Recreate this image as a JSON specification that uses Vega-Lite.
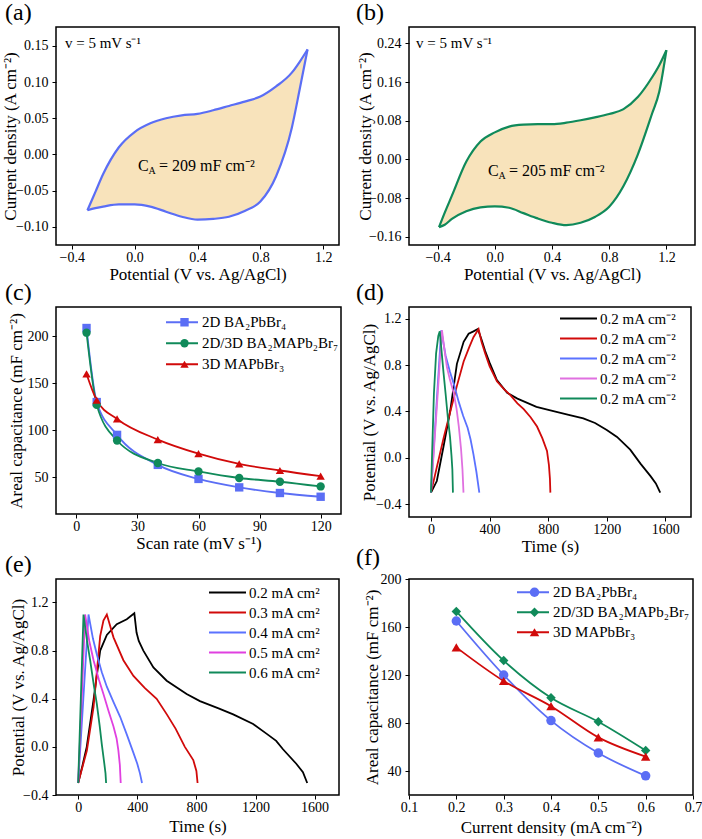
{
  "$schema": "https://vega.github.io/schema/vega-lite/v6.json",
  "padding": {"left": 0, "top": 0, "right": 0, "bottom": 0},
  "background": "white",
  "config": {
    "font": "Liberation Serif, Times New Roman, serif",
    "view": {"stroke": "#000", "strokeWidth": 1.5},
    "axis": {"labelFont": "Liberation Serif, Times New Roman, serif", "titleFont": "Liberation Serif, Times New Roman, serif", "labelFontSize": 14, "titleFontSize": 17, "titleFontWeight": "normal", "labelColor": "#000", "titleColor": "#000", "tickColor": "#000", "domain": false, "grid": false, "tickSize": 4, "labelFlush": false, "labelOverlap": false},
    "axisX": {"labelPadding": 1},
    "axisY": {"labelPadding": 4},
    "legend": {"labelFont": "Liberation Serif, Times New Roman, serif", "labelFontSize": 15, "labelColor": "#000", "padding": 0},
    "title": {"font": "Liberation Serif, Times New Roman, serif", "fontSize": 24, "fontWeight": "normal", "anchor": "start", "frame": "group", "color": "#000", "offset": 2}
  },
  "datasets": {
    "one": [{"k": 1}],
    "cvA": [
      {"x": -0.3, "up": -0.077, "lo": -0.077},
      {"x": -0.25, "up": -0.052, "lo": -0.074},
      {"x": -0.2, "up": -0.027, "lo": -0.072},
      {"x": -0.1, "up": 0.010, "lo": -0.069},
      {"x": 0.0, "up": 0.031, "lo": -0.069},
      {"x": 0.1, "up": 0.043, "lo": -0.072},
      {"x": 0.2, "up": 0.050, "lo": -0.079},
      {"x": 0.3, "up": 0.054, "lo": -0.086},
      {"x": 0.4, "up": 0.056, "lo": -0.090},
      {"x": 0.5, "up": 0.061, "lo": -0.089},
      {"x": 0.6, "up": 0.067, "lo": -0.086},
      {"x": 0.7, "up": 0.073, "lo": -0.078},
      {"x": 0.8, "up": 0.080, "lo": -0.065},
      {"x": 0.9, "up": 0.094, "lo": -0.030},
      {"x": 1.0, "up": 0.113, "lo": 0.037},
      {"x": 1.05, "up": 0.128, "lo": 0.090},
      {"x": 1.1, "up": 0.145, "lo": 0.145}
    ],
    "cvB": [
      {"x": -0.39, "up": -0.140, "lo": -0.140},
      {"x": -0.35, "up": -0.110, "lo": -0.135},
      {"x": -0.3, "up": -0.075, "lo": -0.123},
      {"x": -0.2, "up": -0.005, "lo": -0.107},
      {"x": -0.1, "up": 0.037, "lo": -0.099},
      {"x": 0.0, "up": 0.056, "lo": -0.097},
      {"x": 0.1, "up": 0.068, "lo": -0.100},
      {"x": 0.2, "up": 0.072, "lo": -0.111},
      {"x": 0.3, "up": 0.073, "lo": -0.122},
      {"x": 0.4, "up": 0.073, "lo": -0.131},
      {"x": 0.5, "up": 0.076, "lo": -0.136},
      {"x": 0.6, "up": 0.081, "lo": -0.131},
      {"x": 0.7, "up": 0.087, "lo": -0.119},
      {"x": 0.8, "up": 0.094, "lo": -0.098},
      {"x": 0.9, "up": 0.104, "lo": -0.055},
      {"x": 1.0, "up": 0.129, "lo": 0.010},
      {"x": 1.1, "up": 0.170, "lo": 0.095},
      {"x": 1.15, "up": 0.195, "lo": 0.140},
      {"x": 1.2, "up": 0.226, "lo": 0.226}
    ],
    "capC": [
      {"s": "2D BA₂PbBr₄", "r": 5, "c": 209}, {"s": "2D BA₂PbBr₄", "r": 10, "c": 130}, {"s": "2D BA₂PbBr₄", "r": 20, "c": 95}, {"s": "2D BA₂PbBr₄", "r": 40, "c": 63}, {"s": "2D BA₂PbBr₄", "r": 60, "c": 48}, {"s": "2D BA₂PbBr₄", "r": 80, "c": 39}, {"s": "2D BA₂PbBr₄", "r": 100, "c": 33}, {"s": "2D BA₂PbBr₄", "r": 120, "c": 29},
      {"s": "2D/3D BA₂MAPb₂Br₇", "r": 5, "c": 204}, {"s": "2D/3D BA₂MAPb₂Br₇", "r": 10, "c": 127}, {"s": "2D/3D BA₂MAPb₂Br₇", "r": 20, "c": 89}, {"s": "2D/3D BA₂MAPb₂Br₇", "r": 40, "c": 65}, {"s": "2D/3D BA₂MAPb₂Br₇", "r": 60, "c": 56}, {"s": "2D/3D BA₂MAPb₂Br₇", "r": 80, "c": 49}, {"s": "2D/3D BA₂MAPb₂Br₇", "r": 100, "c": 45}, {"s": "2D/3D BA₂MAPb₂Br₇", "r": 120, "c": 40},
      {"s": "3D MAPbBr₃", "r": 5, "c": 160}, {"s": "3D MAPbBr₃", "r": 10, "c": 132}, {"s": "3D MAPbBr₃", "r": 20, "c": 112}, {"s": "3D MAPbBr₃", "r": 40, "c": 90}, {"s": "3D MAPbBr₃", "r": 60, "c": 75}, {"s": "3D MAPbBr₃", "r": 80, "c": 64}, {"s": "3D MAPbBr₃", "r": 100, "c": 57}, {"s": "3D MAPbBr₃", "r": 120, "c": 51}
    ],
    "capF": [
      {"s": "2D BA₂PbBr₄", "j": 0.2, "c": 165}, {"s": "2D BA₂PbBr₄", "j": 0.3, "c": 120}, {"s": "2D BA₂PbBr₄", "j": 0.4, "c": 82}, {"s": "2D BA₂PbBr₄", "j": 0.5, "c": 55}, {"s": "2D BA₂PbBr₄", "j": 0.6, "c": 36},
      {"s": "2D/3D BA₂MAPb₂Br₇", "j": 0.2, "c": 173}, {"s": "2D/3D BA₂MAPb₂Br₇", "j": 0.3, "c": 132}, {"s": "2D/3D BA₂MAPb₂Br₇", "j": 0.4, "c": 101}, {"s": "2D/3D BA₂MAPb₂Br₇", "j": 0.5, "c": 81}, {"s": "2D/3D BA₂MAPb₂Br₇", "j": 0.6, "c": 57},
      {"s": "3D MAPbBr₃", "j": 0.2, "c": 143}, {"s": "3D MAPbBr₃", "j": 0.3, "c": 115}, {"s": "3D MAPbBr₃", "j": 0.4, "c": 94}, {"s": "3D MAPbBr₃", "j": 0.5, "c": 68}, {"s": "3D MAPbBr₃", "j": 0.6, "c": 52}
    ],
    "gcdD": [
      {"s": "k1", "t": 0, "v": -0.30}, {"s": "k1", "t": 40, "v": -0.20}, {"s": "k1", "t": 86, "v": 0.10}, {"s": "k1", "t": 132, "v": 0.41}, {"s": "k1", "t": 177, "v": 0.81}, {"s": "k1", "t": 223, "v": 1.00}, {"s": "k1", "t": 257, "v": 1.07}, {"s": "k1", "t": 290, "v": 1.09}, {"s": "k1", "t": 320, "v": 1.11}, {"s": "k1", "t": 345, "v": 1.02}, {"s": "k1", "t": 370, "v": 0.92}, {"s": "k1", "t": 400, "v": 0.82}, {"s": "k1", "t": 450, "v": 0.67}, {"s": "k1", "t": 520, "v": 0.56}, {"s": "k1", "t": 590, "v": 0.51}, {"s": "k1", "t": 720, "v": 0.44}, {"s": "k1", "t": 815, "v": 0.41}, {"s": "k1", "t": 940, "v": 0.37}, {"s": "k1", "t": 1040, "v": 0.34}, {"s": "k1", "t": 1120, "v": 0.30}, {"s": "k1", "t": 1200, "v": 0.24}, {"s": "k1", "t": 1270, "v": 0.18}, {"s": "k1", "t": 1360, "v": 0.07}, {"s": "k1", "t": 1430, "v": -0.05}, {"s": "k1", "t": 1500, "v": -0.16}, {"s": "k1", "t": 1535, "v": -0.22}, {"s": "k1", "t": 1565, "v": -0.30},
      {"s": "k2", "t": 0, "v": -0.30}, {"s": "k2", "t": 40, "v": -0.08}, {"s": "k2", "t": 86, "v": 0.17}, {"s": "k2", "t": 132, "v": 0.40}, {"s": "k2", "t": 177, "v": 0.62}, {"s": "k2", "t": 223, "v": 0.83}, {"s": "k2", "t": 260, "v": 0.95}, {"s": "k2", "t": 290, "v": 1.04}, {"s": "k2", "t": 325, "v": 1.11}, {"s": "k2", "t": 345, "v": 1.00}, {"s": "k2", "t": 370, "v": 0.90}, {"s": "k2", "t": 400, "v": 0.79}, {"s": "k2", "t": 450, "v": 0.66}, {"s": "k2", "t": 500, "v": 0.59}, {"s": "k2", "t": 542, "v": 0.54}, {"s": "k2", "t": 590, "v": 0.47}, {"s": "k2", "t": 633, "v": 0.42}, {"s": "k2", "t": 680, "v": 0.35}, {"s": "k2", "t": 724, "v": 0.27}, {"s": "k2", "t": 760, "v": 0.17}, {"s": "k2", "t": 792, "v": 0.06}, {"s": "k2", "t": 805, "v": -0.06}, {"s": "k2", "t": 812, "v": -0.18}, {"s": "k2", "t": 815, "v": -0.30},
      {"s": "k3", "t": 0, "v": -0.30}, {"s": "k3", "t": 35, "v": 0.40}, {"s": "k3", "t": 70, "v": 1.10}, {"s": "k3", "t": 100, "v": 0.88}, {"s": "k3", "t": 130, "v": 0.74}, {"s": "k3", "t": 160, "v": 0.62}, {"s": "k3", "t": 190, "v": 0.48}, {"s": "k3", "t": 220, "v": 0.36}, {"s": "k3", "t": 250, "v": 0.26}, {"s": "k3", "t": 270, "v": 0.16}, {"s": "k3", "t": 290, "v": 0.03}, {"s": "k3", "t": 310, "v": -0.12}, {"s": "k3", "t": 330, "v": -0.30},
      {"s": "k4", "t": 0, "v": -0.30}, {"s": "k4", "t": 38, "v": 0.40}, {"s": "k4", "t": 75, "v": 1.10}, {"s": "k4", "t": 90, "v": 0.95}, {"s": "k4", "t": 109, "v": 0.78}, {"s": "k4", "t": 130, "v": 0.67}, {"s": "k4", "t": 155, "v": 0.56}, {"s": "k4", "t": 175, "v": 0.42}, {"s": "k4", "t": 190, "v": 0.27}, {"s": "k4", "t": 205, "v": 0.08}, {"s": "k4", "t": 215, "v": -0.10}, {"s": "k4", "t": 222, "v": -0.30},
      {"s": "k5", "t": 0, "v": -0.30}, {"s": "k5", "t": 8, "v": 0.05}, {"s": "k5", "t": 20, "v": 0.55}, {"s": "k5", "t": 35, "v": 0.90}, {"s": "k5", "t": 50, "v": 1.05}, {"s": "k5", "t": 60, "v": 1.09}, {"s": "k5", "t": 70, "v": 0.95}, {"s": "k5", "t": 86, "v": 0.73}, {"s": "k5", "t": 100, "v": 0.55}, {"s": "k5", "t": 115, "v": 0.35}, {"s": "k5", "t": 130, "v": 0.18}, {"s": "k5", "t": 140, "v": 0.02}, {"s": "k5", "t": 146, "v": -0.10}, {"s": "k5", "t": 150, "v": -0.30}
    ],
    "gcdE": [
      {"s": "0.2 mA cm²", "t": 0, "v": -0.30}, {"s": "0.2 mA cm²", "t": 30, "v": -0.15}, {"s": "0.2 mA cm²", "t": 58, "v": 0.00}, {"s": "0.2 mA cm²", "t": 104, "v": 0.39}, {"s": "0.2 mA cm²", "t": 149, "v": 0.80}, {"s": "0.2 mA cm²", "t": 194, "v": 0.93}, {"s": "0.2 mA cm²", "t": 261, "v": 1.02}, {"s": "0.2 mA cm²", "t": 329, "v": 1.06}, {"s": "0.2 mA cm²", "t": 380, "v": 1.11}, {"s": "0.2 mA cm²", "t": 395, "v": 0.95}, {"s": "0.2 mA cm²", "t": 410, "v": 0.88}, {"s": "0.2 mA cm²", "t": 441, "v": 0.80}, {"s": "0.2 mA cm²", "t": 509, "v": 0.66}, {"s": "0.2 mA cm²", "t": 599, "v": 0.55}, {"s": "0.2 mA cm²", "t": 734, "v": 0.44}, {"s": "0.2 mA cm²", "t": 824, "v": 0.38}, {"s": "0.2 mA cm²", "t": 950, "v": 0.32}, {"s": "0.2 mA cm²", "t": 1049, "v": 0.27}, {"s": "0.2 mA cm²", "t": 1184, "v": 0.19}, {"s": "0.2 mA cm²", "t": 1274, "v": 0.11}, {"s": "0.2 mA cm²", "t": 1340, "v": 0.05}, {"s": "0.2 mA cm²", "t": 1386, "v": -0.02}, {"s": "0.2 mA cm²", "t": 1476, "v": -0.14}, {"s": "0.2 mA cm²", "t": 1521, "v": -0.21}, {"s": "0.2 mA cm²", "t": 1550, "v": -0.30},
      {"s": "0.3 mA cm²", "t": 0, "v": -0.30}, {"s": "0.3 mA cm²", "t": 59, "v": -0.03}, {"s": "0.3 mA cm²", "t": 104, "v": 0.33}, {"s": "0.3 mA cm²", "t": 149, "v": 0.92}, {"s": "0.3 mA cm²", "t": 171, "v": 1.05}, {"s": "0.3 mA cm²", "t": 194, "v": 1.10}, {"s": "0.3 mA cm²", "t": 239, "v": 0.91}, {"s": "0.3 mA cm²", "t": 306, "v": 0.72}, {"s": "0.3 mA cm²", "t": 374, "v": 0.59}, {"s": "0.3 mA cm²", "t": 450, "v": 0.49}, {"s": "0.3 mA cm²", "t": 531, "v": 0.40}, {"s": "0.3 mA cm²", "t": 600, "v": 0.27}, {"s": "0.3 mA cm²", "t": 660, "v": 0.15}, {"s": "0.3 mA cm²", "t": 722, "v": 0.00}, {"s": "0.3 mA cm²", "t": 779, "v": -0.11}, {"s": "0.3 mA cm²", "t": 800, "v": -0.20}, {"s": "0.3 mA cm²", "t": 808, "v": -0.30},
      {"s": "0.4 mA cm²", "t": 0, "v": -0.30}, {"s": "0.4 mA cm²", "t": 35, "v": 0.40}, {"s": "0.4 mA cm²", "t": 70, "v": 1.10}, {"s": "0.4 mA cm²", "t": 100, "v": 0.90}, {"s": "0.4 mA cm²", "t": 126, "v": 0.77}, {"s": "0.4 mA cm²", "t": 160, "v": 0.62}, {"s": "0.4 mA cm²", "t": 194, "v": 0.50}, {"s": "0.4 mA cm²", "t": 240, "v": 0.37}, {"s": "0.4 mA cm²", "t": 284, "v": 0.25}, {"s": "0.4 mA cm²", "t": 330, "v": 0.10}, {"s": "0.4 mA cm²", "t": 374, "v": -0.05}, {"s": "0.4 mA cm²", "t": 400, "v": -0.14}, {"s": "0.4 mA cm²", "t": 418, "v": -0.22}, {"s": "0.4 mA cm²", "t": 432, "v": -0.30},
      {"s": "0.5 mA cm²", "t": 0, "v": -0.30}, {"s": "0.5 mA cm²", "t": 24, "v": 0.40}, {"s": "0.5 mA cm²", "t": 47, "v": 1.10}, {"s": "0.5 mA cm²", "t": 75, "v": 0.88}, {"s": "0.5 mA cm²", "t": 104, "v": 0.72}, {"s": "0.5 mA cm²", "t": 140, "v": 0.56}, {"s": "0.5 mA cm²", "t": 171, "v": 0.44}, {"s": "0.5 mA cm²", "t": 205, "v": 0.30}, {"s": "0.5 mA cm²", "t": 239, "v": 0.17}, {"s": "0.5 mA cm²", "t": 260, "v": 0.07}, {"s": "0.5 mA cm²", "t": 272, "v": -0.03}, {"s": "0.5 mA cm²", "t": 282, "v": -0.15}, {"s": "0.5 mA cm²", "t": 288, "v": -0.30},
      {"s": "0.6 mA cm²", "t": 0, "v": -0.30}, {"s": "0.6 mA cm²", "t": 18, "v": 0.40}, {"s": "0.6 mA cm²", "t": 36, "v": 1.10}, {"s": "0.6 mA cm²", "t": 60, "v": 0.88}, {"s": "0.6 mA cm²", "t": 81, "v": 0.72}, {"s": "0.6 mA cm²", "t": 105, "v": 0.52}, {"s": "0.6 mA cm²", "t": 126, "v": 0.36}, {"s": "0.6 mA cm²", "t": 145, "v": 0.18}, {"s": "0.6 mA cm²", "t": 160, "v": 0.02}, {"s": "0.6 mA cm²", "t": 175, "v": -0.12}, {"s": "0.6 mA cm²", "t": 185, "v": -0.22}, {"s": "0.6 mA cm²", "t": 189, "v": -0.30}
    ]
  },
  "columns": 2,
  "bounds": "flush",
  "spacing": {"row": 62, "column": 68},
  "resolve": {"scale": {"color": "independent", "shape": "independent"}, "legend": {"color": "independent", "shape": "independent"}},
  "concat": [
    {
      "width": 283, "height": 218,
      "title": {"text": "(a)", "dx": -51},
      "layer": [
        {"data": {"name": "cvA"}, "mark": {"type": "area", "color": "#f8e3bb", "interpolate": "monotone"},
         "encoding": {
           "x": {"field": "x", "type": "quantitative", "scale": {"domain": [-0.5, 1.3], "nice": false, "zero": false}, "axis": {"values": [-0.4, 0, 0.4, 0.8, 1.2], "format": ".1f", "title": "Potential (V vs. Ag/AgCl)", "titleY": 21}},
           "y": {"field": "up", "type": "quantitative", "scale": {"domain": [-0.125, 0.176], "nice": false, "zero": false}, "axis": {"values": [-0.1, -0.05, 0, 0.05, 0.1, 0.15], "format": ".2f", "title": "Current density (A cm⁻²)", "titleX": -37}},
           "y2": {"field": "lo"}
         }},
        {"data": {"name": "cvA"}, "mark": {"type": "line", "color": "#5b6ef5", "strokeWidth": 2.2, "interpolate": "monotone"},
         "encoding": {"x": {"field": "x", "type": "quantitative"}, "y": {"field": "up", "type": "quantitative"}}},
        {"data": {"name": "cvA"}, "mark": {"type": "line", "color": "#5b6ef5", "strokeWidth": 2.2, "interpolate": "monotone"},
         "encoding": {"x": {"field": "x", "type": "quantitative"}, "y": {"field": "lo", "type": "quantitative"}}},
        {"data": {"name": "one"}, "mark": {"type": "text", "text": "v = 5 mV s⁻¹", "align": "left", "baseline": "middle", "fontSize": 15, "color": "#000"},
         "encoding": {"x": {"datum": -0.443}, "y": {"datum": 0.154}}},
        {"data": {"name": "one"}, "mark": {"type": "text", "text": "C", "align": "left", "baseline": "middle", "fontSize": 16, "color": "#000"},
         "encoding": {"x": {"datum": 0.022}, "y": {"datum": -0.016}}},
        {"data": {"name": "one"}, "mark": {"type": "text", "text": "A", "align": "left", "baseline": "middle", "fontSize": 10, "dx": 10.5, "dy": 5, "color": "#000"},
         "encoding": {"x": {"datum": 0.022}, "y": {"datum": -0.016}}},
        {"data": {"name": "one"}, "mark": {"type": "text", "text": "= 209 mF cm⁻²", "align": "left", "baseline": "middle", "fontSize": 16, "dx": 21, "color": "#000"},
         "encoding": {"x": {"datum": 0.022}, "y": {"datum": -0.016}}}
      ]
    },
    {
      "width": 286, "height": 218,
      "title": {"text": "(b)", "dx": -53},
      "layer": [
        {"data": {"name": "cvB"}, "mark": {"type": "area", "color": "#f8e3bb", "interpolate": "monotone"},
         "encoding": {
           "x": {"field": "x", "type": "quantitative", "scale": {"domain": [-0.6, 1.4], "nice": false, "zero": false}, "axis": {"values": [-0.4, 0, 0.4, 0.8, 1.2], "format": ".1f", "title": "Potential (V vs. Ag/AgCl)", "titleY": 21}},
           "y": {"field": "up", "type": "quantitative", "scale": {"domain": [-0.177, 0.274], "nice": false, "zero": false}, "axis": {"values": [-0.16, -0.08, 0, 0.08, 0.16, 0.24], "format": ".2f", "title": "Current density (A cm⁻²)", "titleX": -35}},
           "y2": {"field": "lo"}
         }},
        {"data": {"name": "cvB"}, "mark": {"type": "line", "color": "#108a5a", "strokeWidth": 2.2, "interpolate": "monotone"},
         "encoding": {"x": {"field": "x", "type": "quantitative"}, "y": {"field": "up", "type": "quantitative"}}},
        {"data": {"name": "cvB"}, "mark": {"type": "line", "color": "#108a5a", "strokeWidth": 2.2, "interpolate": "monotone"},
         "encoding": {"x": {"field": "x", "type": "quantitative"}, "y": {"field": "lo", "type": "quantitative"}}},
        {"data": {"name": "one"}, "mark": {"type": "text", "text": "v = 5 mV s⁻¹", "align": "left", "baseline": "middle", "fontSize": 15, "color": "#000"},
         "encoding": {"x": {"datum": -0.551}, "y": {"datum": 0.241}}},
        {"data": {"name": "one"}, "mark": {"type": "text", "text": "C", "align": "left", "baseline": "middle", "fontSize": 16, "color": "#000"},
         "encoding": {"x": {"datum": -0.048}, "y": {"datum": -0.024}}},
        {"data": {"name": "one"}, "mark": {"type": "text", "text": "A", "align": "left", "baseline": "middle", "fontSize": 10, "dx": 10.5, "dy": 5, "color": "#000"},
         "encoding": {"x": {"datum": -0.048}, "y": {"datum": -0.024}}},
        {"data": {"name": "one"}, "mark": {"type": "text", "text": "= 205 mF cm⁻²", "align": "left", "baseline": "middle", "fontSize": 16, "dx": 21, "color": "#000"},
         "encoding": {"x": {"datum": -0.048}, "y": {"datum": -0.024}}}
      ]
    },
    {
      "width": 285, "height": 207,
      "title": {"text": "(c)", "dx": -51},
      "data": {"name": "capC"},
      "layer": [
        {"mark": {"type": "line", "interpolate": "monotone", "strokeWidth": 1.8},
         "encoding": {
           "x": {"field": "r", "type": "quantitative", "scale": {"domain": [-10, 130], "nice": false, "zero": false}, "axis": {"values": [0, 30, 60, 90, 120], "title": "Scan rate (mV s⁻¹)", "titleY": 21}},
           "y": {"field": "c", "type": "quantitative", "scale": {"domain": [10.6, 231.4], "nice": false, "zero": false}, "axis": {"values": [50, 100, 150, 200], "title": "Areal capacitance (mF cm⁻²)", "titleX": -31}},
           "color": {"field": "s", "type": "nominal", "scale": {"domain": ["2D BA₂PbBr₄", "2D/3D BA₂MAPb₂Br₇", "3D MAPbBr₃"], "range": ["#5b6ef5", "#108a5a", "#d10a0a"]},
             "legend": {"orient": "none", "legendX": 109, "legendY": 5, "title": null, "symbolType": "stroke", "symbolSize": 1024, "symbolStrokeWidth": 2, "labelOffset": 3, "rowPadding": 0, "clipHeight": 20.5}}
         }},
        {"mark": {"type": "point", "filled": true, "size": 70, "opacity": 1},
         "encoding": {
           "x": {"field": "r", "type": "quantitative"},
           "y": {"field": "c", "type": "quantitative"},
           "color": {"field": "s", "type": "nominal", "scale": {"domain": ["2D BA₂PbBr₄", "2D/3D BA₂MAPb₂Br₇", "3D MAPbBr₃"], "range": ["#5b6ef5", "#108a5a", "#d10a0a"]},
             "legend": {"orient": "none", "legendX": 121, "legendY": 5, "title": null, "symbolSize": 70, "symbolOpacity": 1, "labelOpacity": 0, "labelExpr": "''", "rowPadding": 0, "clipHeight": 20.5}},
           "shape": {"field": "s", "type": "nominal", "scale": {"domain": ["2D BA₂PbBr₄", "2D/3D BA₂MAPb₂Br₇", "3D MAPbBr₃"], "range": ["square", "circle", "triangle-up"]},
             "legend": {"orient": "none", "legendX": 121, "legendY": 5, "title": null, "symbolSize": 70, "symbolOpacity": 1, "labelOpacity": 0, "labelExpr": "''", "rowPadding": 0, "clipHeight": 20.5}}
         }}
      ],
      "resolve": {"scale": {"color": "independent", "shape": "independent"}, "legend": {"color": "independent", "shape": "independent"}}
    },
    {
      "width": 282, "height": 210,
      "title": {"text": "(d)", "dx": -53},
      "data": {"name": "gcdD"},
      "mark": {"type": "line", "strokeWidth": 1.8},
      "encoding": {
        "x": {"field": "t", "type": "quantitative", "scale": {"domain": [-150, 1775], "nice": false, "zero": false}, "axis": {"values": [0, 400, 800, 1200, 1600], "format": "d", "title": "Time (s)", "titleY": 21}},
        "y": {"field": "v", "type": "quantitative", "scale": {"domain": [-0.51, 1.3], "nice": false, "zero": false}, "axis": {"values": [-0.4, 0, 0.4, 0.8, 1.2], "format": ".1f", "title": "Potential (V vs. Ag/AgCl)", "titleX": -31}},
        "color": {"field": "s", "type": "nominal", "scale": {"domain": ["k1", "k2", "k3", "k4", "k5"], "range": ["#000000", "#d10a0a", "#5b72ff", "#e070e0", "#108a5a"]},
          "legend": {"orient": "none", "legendX": 150, "legendY": 1.5, "title": null, "symbolType": "stroke", "symbolSize": 1369, "symbolStrokeWidth": 2, "labelOffset": 2, "rowPadding": 0, "clipHeight": 20, "labelExpr": "'0.2 mA cm⁻²'"}}
      }
    },
    {
      "width": 283, "height": 216,
      "title": {"text": "(e)", "dx": -51},
      "data": {"name": "gcdE"},
      "mark": {"type": "line", "strokeWidth": 1.8},
      "encoding": {
        "x": {"field": "t", "type": "quantitative", "scale": {"domain": [-150, 1765], "nice": false, "zero": false}, "axis": {"values": [0, 400, 800, 1200, 1600], "format": "d", "title": "Time (s)", "titleY": 23}},
        "y": {"field": "v", "type": "quantitative", "scale": {"domain": [-0.4, 1.395], "nice": false, "zero": false}, "axis": {"values": [-0.4, 0, 0.4, 0.8, 1.2], "format": ".1f", "title": "Potential (V vs. Ag/AgCl)", "titleX": -29}},
        "color": {"field": "s", "type": "nominal", "scale": {"domain": ["0.2 mA cm²", "0.3 mA cm²", "0.4 mA cm²", "0.5 mA cm²", "0.6 mA cm²"], "range": ["#000000", "#d10a0a", "#5b72ff", "#e040e0", "#108a5a"]},
          "legend": {"orient": "none", "legendX": 152, "legendY": 3.5, "title": null, "symbolType": "stroke", "symbolSize": 1369, "symbolStrokeWidth": 2, "labelOffset": 2, "rowPadding": 0, "clipHeight": 20}}
      }
    },
    {
      "width": 284, "height": 216,
      "title": {"text": "(f)", "dx": -53},
      "data": {"name": "capF"},
      "layer": [
        {"mark": {"type": "line", "interpolate": "monotone", "strokeWidth": 1.8},
         "encoding": {
           "x": {"field": "j", "type": "quantitative", "scale": {"domain": [0.1, 0.7], "nice": false, "zero": false}, "axis": {"values": [0.1, 0.2, 0.3, 0.4, 0.5, 0.6, 0.7], "format": ".1f", "title": "Current density (mA cm⁻²)", "titleY": 24}},
           "y": {"field": "c", "type": "quantitative", "scale": {"domain": [20, 200], "nice": false, "zero": false}, "axis": {"values": [40, 80, 120, 160, 200], "title": "Areal capacitance (mF cm⁻²)", "titleX": -28}},
           "color": {"field": "s", "type": "nominal", "scale": {"domain": ["2D BA₂PbBr₄", "2D/3D BA₂MAPb₂Br₇", "3D MAPbBr₃"], "range": ["#5b6ef5", "#108a5a", "#d10a0a"]},
             "legend": {"orient": "none", "legendX": 107, "legendY": 3.25, "title": null, "symbolType": "stroke", "symbolSize": 1024, "symbolStrokeWidth": 2, "labelOffset": 3, "rowPadding": 0, "clipHeight": 20}}
         }},
        {"mark": {"type": "point", "filled": true, "size": 90, "opacity": 1},
         "encoding": {
           "x": {"field": "j", "type": "quantitative"},
           "y": {"field": "c", "type": "quantitative"},
           "color": {"field": "s", "type": "nominal", "scale": {"domain": ["2D BA₂PbBr₄", "2D/3D BA₂MAPb₂Br₇", "3D MAPbBr₃"], "range": ["#5b6ef5", "#108a5a", "#d10a0a"]},
             "legend": {"orient": "none", "legendX": 118, "legendY": 3.25, "title": null, "symbolSize": 90, "symbolOpacity": 1, "labelOpacity": 0, "labelExpr": "''", "rowPadding": 0, "clipHeight": 20}},
           "shape": {"field": "s", "type": "nominal", "scale": {"domain": ["2D BA₂PbBr₄", "2D/3D BA₂MAPb₂Br₇", "3D MAPbBr₃"], "range": ["circle", "diamond", "triangle-up"]},
             "legend": {"orient": "none", "legendX": 118, "legendY": 3.25, "title": null, "symbolSize": 90, "symbolOpacity": 1, "labelOpacity": 0, "labelExpr": "''", "rowPadding": 0, "clipHeight": 20}}
         }}
      ],
      "resolve": {"scale": {"color": "independent", "shape": "independent"}, "legend": {"color": "independent", "shape": "independent"}}
    }
  ]
}
